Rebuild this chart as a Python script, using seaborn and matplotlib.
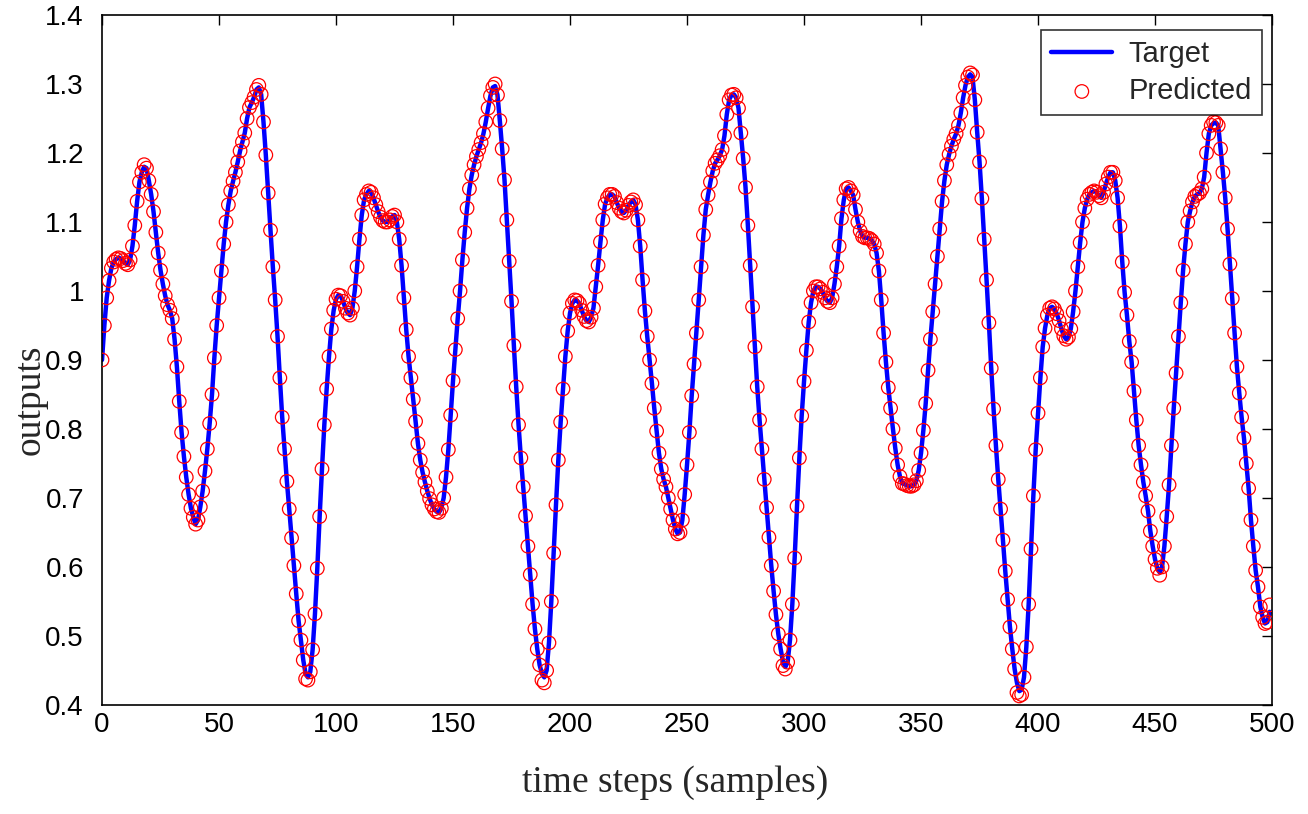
import numpy as np
import pandas as pd
import matplotlib
matplotlib.use("Agg")
import matplotlib.pyplot as plt
import seaborn as sns

# ---- data (one value per sample, t = 0..499) ----
target = [
    0.900, 0.950, 0.990, 1.015, 1.033, 1.042, 1.046, 1.048, 1.047, 1.044,
    1.040, 1.038, 1.045, 1.065, 1.095, 1.130, 1.158, 1.172, 1.180, 1.178,
    1.160, 1.140, 1.115, 1.085, 1.055, 1.030, 1.010, 0.993, 0.980, 0.972,
    0.960, 0.930, 0.890, 0.840, 0.795, 0.760, 0.730, 0.705, 0.685, 0.672,
    0.662, 0.668, 0.687, 0.710, 0.739, 0.771, 0.808, 0.850, 0.903, 0.950,
    0.990, 1.029, 1.068, 1.100, 1.125, 1.145, 1.159, 1.172, 1.187, 1.203,
    1.216, 1.229, 1.250, 1.266, 1.273, 1.281, 1.292, 1.295, 1.285, 1.245,
    1.197, 1.142, 1.088, 1.035, 0.987, 0.934, 0.874, 0.817, 0.771, 0.724,
    0.684, 0.642, 0.602, 0.561, 0.522, 0.494, 0.465, 0.445, 0.440, 0.448,
    0.480, 0.532, 0.598, 0.673, 0.742, 0.806, 0.858, 0.905, 0.945, 0.972,
    0.988, 0.994, 0.993, 0.985, 0.975, 0.968, 0.965, 0.975, 1.000, 1.035,
    1.075, 1.110, 1.132, 1.140, 1.145, 1.143, 1.135, 1.125, 1.115, 1.107,
    1.102, 1.100, 1.100, 1.103, 1.108, 1.110, 1.100, 1.075, 1.037, 0.990,
    0.944, 0.905, 0.874, 0.843, 0.811, 0.779, 0.755, 0.737, 0.723, 0.710,
    0.699, 0.690, 0.684, 0.680, 0.679, 0.685, 0.700, 0.730, 0.770, 0.820,
    0.870, 0.915, 0.960, 1.000, 1.045, 1.085, 1.120, 1.148, 1.168, 1.183,
    1.195, 1.205, 1.215, 1.228, 1.245, 1.265, 1.283, 1.295, 1.297, 1.284,
    1.247, 1.206, 1.161, 1.103, 1.043, 0.985, 0.921, 0.861, 0.806, 0.758,
    0.716, 0.674, 0.630, 0.589, 0.546, 0.510, 0.481, 0.458, 0.445, 0.440,
    0.450, 0.490, 0.550, 0.620, 0.690, 0.755, 0.810, 0.858, 0.905, 0.942,
    0.968, 0.982, 0.987, 0.986, 0.982, 0.972, 0.963, 0.957, 0.955, 0.962,
    0.975, 1.006, 1.037, 1.071, 1.103, 1.126, 1.135, 1.140, 1.140, 1.137,
    1.128, 1.120, 1.115, 1.113, 1.117, 1.124, 1.129, 1.132, 1.125, 1.103,
    1.065, 1.016, 0.971, 0.934, 0.900, 0.866, 0.830, 0.797, 0.765, 0.742,
    0.727, 0.716, 0.700, 0.684, 0.668, 0.655, 0.648, 0.650, 0.668, 0.705,
    0.748, 0.795, 0.848, 0.894, 0.939, 0.987, 1.035, 1.081, 1.118, 1.139,
    1.158, 1.174, 1.185, 1.190, 1.196, 1.205, 1.225, 1.256, 1.277, 1.284,
    1.285, 1.280, 1.265, 1.229, 1.192, 1.150, 1.095, 1.037, 0.977, 0.919,
    0.861, 0.813, 0.771, 0.727, 0.686, 0.643, 0.602, 0.565, 0.531, 0.503,
    0.481, 0.463, 0.455, 0.462, 0.494, 0.546, 0.613, 0.688, 0.758, 0.819,
    0.869, 0.914, 0.955, 0.983, 1.000, 1.006, 1.006, 1.003, 0.998, 0.990,
    0.985, 0.983, 0.990, 1.010, 1.035, 1.065, 1.105, 1.132, 1.148, 1.150,
    1.145, 1.139, 1.118, 1.100, 1.087, 1.079, 1.077, 1.077, 1.076, 1.073,
    1.068, 1.055, 1.029, 0.987, 0.939, 0.897, 0.860, 0.830, 0.800, 0.772,
    0.748, 0.731, 0.721, 0.720, 0.718, 0.717, 0.717, 0.719, 0.725, 0.740,
    0.765, 0.798, 0.837, 0.885, 0.930, 0.970, 1.010, 1.050, 1.090, 1.130,
    1.160, 1.183, 1.198, 1.210, 1.220, 1.228, 1.240, 1.258, 1.280, 1.298,
    1.310, 1.314, 1.310, 1.277, 1.230, 1.187, 1.134, 1.075, 1.016, 0.954,
    0.888, 0.829, 0.776, 0.727, 0.684, 0.639, 0.594, 0.553, 0.513, 0.481,
    0.452, 0.432, 0.420, 0.422, 0.440, 0.484, 0.546, 0.626, 0.703, 0.770,
    0.823, 0.874, 0.919, 0.946, 0.965, 0.975, 0.977, 0.974, 0.967, 0.957,
    0.945, 0.935, 0.930, 0.933, 0.945, 0.970, 1.000, 1.035, 1.070, 1.100,
    1.120, 1.133, 1.140, 1.143, 1.145, 1.143, 1.138, 1.135, 1.143, 1.155,
    1.165, 1.172, 1.172, 1.160, 1.135, 1.094, 1.042, 0.998, 0.965, 0.927,
    0.897, 0.855, 0.813, 0.776, 0.748, 0.723, 0.703, 0.681, 0.652, 0.630,
    0.611, 0.598, 0.592, 0.600, 0.630, 0.673, 0.719, 0.776, 0.830, 0.881,
    0.934, 0.983, 1.030, 1.068, 1.100, 1.116, 1.129, 1.137, 1.140, 1.142,
    1.148, 1.165, 1.200, 1.228, 1.240, 1.243, 1.244, 1.240, 1.206, 1.172,
    1.135, 1.090, 1.039, 0.989, 0.939, 0.890, 0.852, 0.817, 0.787, 0.750,
    0.714, 0.668, 0.630, 0.595, 0.571, 0.542, 0.527, 0.518, 0.520, 0.535,
]

# predicted values equal the target except where the circles visibly deviate
predicted_overrides = {
    18: 1.183, 67: 1.298, 87: 0.438, 88: 0.436, 168: 1.300, 188: 0.436,
    189: 0.432, 291: 0.457, 292: 0.452, 371: 1.316, 372: 1.313,
    391: 0.418, 392: 0.413, 393: 0.415, 452: 0.588, 475: 1.245, 499: 0.545,
}
predicted = list(target)
for k, v in predicted_overrides.items():
    predicted[k] = v

steps = list(range(len(target)))
x_ticks = [0, 50, 100, 150, 200, 250, 300, 350, 400, 450, 500]
y_ticks = [0.4, 0.5, 0.6, 0.7, 0.8, 0.9, 1.0, 1.1, 1.2, 1.3, 1.4]
y_tick_labels = ["0.4", "0.5", "0.6", "0.7", "0.8", "0.9", "1", "1.1", "1.2", "1.3", "1.4"]

df = pd.DataFrame({"step": steps, "Target": target, "Predicted": predicted})

# ---- styling ----
sns.set_style("white")
plt.rcParams["font.family"] = ["Liberation Sans", "DejaVu Sans"]

fig = plt.figure(figsize=(13.08, 8.14), dpi=100)
ax = fig.add_axes([0.078, 0.134, 0.8945, 0.8476])

sns.lineplot(data=df, x="step", y="Target", ax=ax, color="#0000ff",
             linewidth=3.2, label="Target", zorder=2)
sns.scatterplot(data=df, x="step", y="Predicted", ax=ax, marker="o",
                s=95, facecolor="none", edgecolor="#ff0000", linewidth=0.9,
                label="Predicted", zorder=3)

ax.set_xlim(0, 500)
ax.set_ylim(0.4, 1.4)
ax.set_xticks(x_ticks)
ax.set_xticklabels([str(v) for v in x_ticks])
ax.set_yticks(y_ticks)
ax.set_yticklabels(y_tick_labels)

ax.tick_params(axis="both", which="both", direction="in", length=7, width=1,
               top=True, right=True, labelsize=20, colors="black")
ax.tick_params(axis="x", pad=5)
ax.tick_params(axis="y", pad=13)
for sp in ax.spines.values():
    sp.set_visible(True)
    sp.set_color("black")
    sp.set_linewidth(1.2)

ax.set_xlabel("time steps (samples)", fontsize=27,
              family=["Liberation Serif", "DejaVu Serif"])
ax.set_ylabel("outputs", fontsize=27,
              family=["Liberation Serif", "DejaVu Serif"])
ax.xaxis.set_label_coords(0.49, -0.113)
ax.yaxis.set_label_coords(-0.0615, 0.442)
ax.xaxis.label.set_va("center")
ax.yaxis.label.set_va("center")

leg = ax.legend(loc="upper right", bbox_to_anchor=(0.9915, 0.978),
                fontsize=21, frameon=True, fancybox=False, edgecolor="black",
                handlelength=2.1, handletextpad=0.55, borderpad=0.35,
                labelspacing=0.3, borderaxespad=0)
leg.get_frame().set_linewidth(1.2)

fig.savefig("out.png", dpi=100)
